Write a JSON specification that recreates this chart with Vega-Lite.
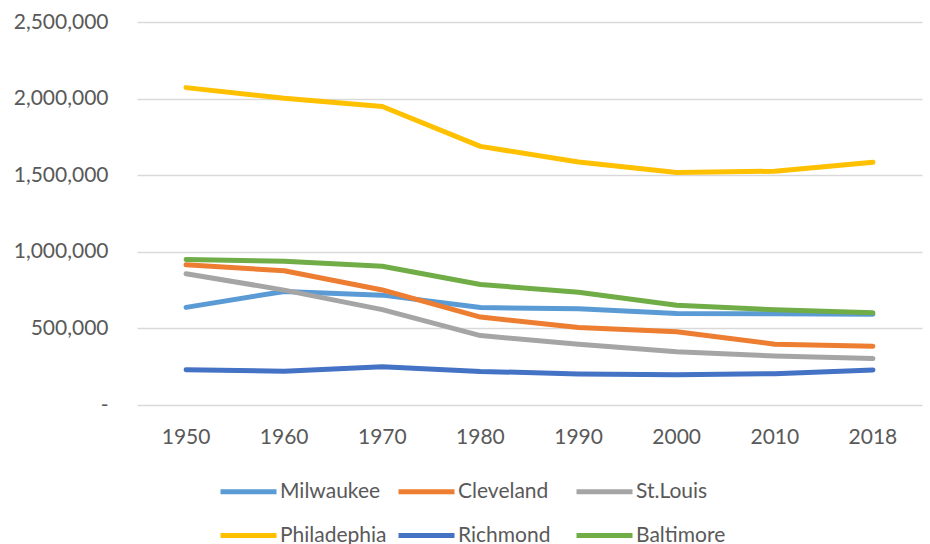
{
  "$schema": "https://vega.github.io/schema/vega-lite/v6.json",
  "width": 785,
  "height": 383,
  "autosize": {"type": "none"},
  "padding": {"left": 137, "top": 22, "right": 8, "bottom": 139},
  "background": "white",
  "config": {
    "view": {"stroke": null},
    "font": "Lato",
    "axis": {"labelFont": "Lato", "labelColor": "#595959", "labelFontSize": 21}
  },
  "data": {
    "values": [
      {"city": "Milwaukee", "year": "1950", "pop": 637392},
      {"city": "Milwaukee", "year": "1960", "pop": 741324},
      {"city": "Milwaukee", "year": "1970", "pop": 717099},
      {"city": "Milwaukee", "year": "1980", "pop": 636212},
      {"city": "Milwaukee", "year": "1990", "pop": 628088},
      {"city": "Milwaukee", "year": "2000", "pop": 596974},
      {"city": "Milwaukee", "year": "2010", "pop": 594833},
      {"city": "Milwaukee", "year": "2018", "pop": 592025},
      {"city": "Cleveland", "year": "1950", "pop": 914808},
      {"city": "Cleveland", "year": "1960", "pop": 876050},
      {"city": "Cleveland", "year": "1970", "pop": 750903},
      {"city": "Cleveland", "year": "1980", "pop": 573822},
      {"city": "Cleveland", "year": "1990", "pop": 505616},
      {"city": "Cleveland", "year": "2000", "pop": 478403},
      {"city": "Cleveland", "year": "2010", "pop": 396815},
      {"city": "Cleveland", "year": "2018", "pop": 383793},
      {"city": "St.Louis", "year": "1950", "pop": 856796},
      {"city": "St.Louis", "year": "1960", "pop": 750026},
      {"city": "St.Louis", "year": "1970", "pop": 622236},
      {"city": "St.Louis", "year": "1980", "pop": 453085},
      {"city": "St.Louis", "year": "1990", "pop": 396685},
      {"city": "St.Louis", "year": "2000", "pop": 348189},
      {"city": "St.Louis", "year": "2010", "pop": 319294},
      {"city": "St.Louis", "year": "2018", "pop": 302838},
      {"city": "Philadephia", "year": "1950", "pop": 2071605},
      {"city": "Philadephia", "year": "1960", "pop": 2002512},
      {"city": "Philadephia", "year": "1970", "pop": 1948609},
      {"city": "Philadephia", "year": "1980", "pop": 1688210},
      {"city": "Philadephia", "year": "1990", "pop": 1585577},
      {"city": "Philadephia", "year": "2000", "pop": 1517550},
      {"city": "Philadephia", "year": "2010", "pop": 1526006},
      {"city": "Philadephia", "year": "2018", "pop": 1584138},
      {"city": "Richmond", "year": "1950", "pop": 230310},
      {"city": "Richmond", "year": "1960", "pop": 219958},
      {"city": "Richmond", "year": "1970", "pop": 249621},
      {"city": "Richmond", "year": "1980", "pop": 219214},
      {"city": "Richmond", "year": "1990", "pop": 203056},
      {"city": "Richmond", "year": "2000", "pop": 197790},
      {"city": "Richmond", "year": "2010", "pop": 204214},
      {"city": "Richmond", "year": "2018", "pop": 228783},
      {"city": "Baltimore", "year": "1950", "pop": 949708},
      {"city": "Baltimore", "year": "1960", "pop": 939024},
      {"city": "Baltimore", "year": "1970", "pop": 905759},
      {"city": "Baltimore", "year": "1980", "pop": 786775},
      {"city": "Baltimore", "year": "1990", "pop": 736014},
      {"city": "Baltimore", "year": "2000", "pop": 651154},
      {"city": "Baltimore", "year": "2010", "pop": 620961},
      {"city": "Baltimore", "year": "2018", "pop": 602495}
    ]
  },
  "mark": {"type": "line", "strokeWidth": 5, "strokeCap": "round", "strokeJoin": "round"},
  "encoding": {
    "x": {
      "field": "year",
      "type": "ordinal",
      "sort": null,
      "scale": {"type": "band", "paddingInner": 0, "paddingOuter": 0},
      "axis": {
        "title": null,
        "labelAngle": 0,
        "ticks": false,
        "domain": false,
        "grid": false,
        "labelPadding": 21
      }
    },
    "y": {
      "field": "pop",
      "type": "quantitative",
      "scale": {"domain": [0, 2500000], "nice": false},
      "axis": {
        "title": null,
        "values": [0, 500000, 1000000, 1500000, 2000000, 2500000],
        "labelExpr": "datum.value == 0 ? '-' : format(datum.value, ',')",
        "ticks": false,
        "domain": false,
        "gridColor": "#D9D9D9",
        "gridWidth": 1.5,
        "labelPadding": 29
      }
    },
    "color": {
      "field": "city",
      "type": "nominal",
      "sort": ["Milwaukee", "Cleveland", "St.Louis", "Philadephia", "Richmond", "Baltimore"],
      "scale": {
        "domain": ["Milwaukee", "Cleveland", "St.Louis", "Philadephia", "Richmond", "Baltimore"],
        "range": ["#5B9BD5", "#ED7D31", "#A5A5A5", "#FFC000", "#4472C4", "#70AD47"]
      },
      "legend": {
        "title": null,
        "orient": "none",
        "legendX": 81,
        "legendY": 439,
        "direction": "horizontal",
        "columns": 3,
        "gridAlign": "all",
        "symbolType": "stroke",
        "symbolSize": 3136,
        "symbolStrokeWidth": 5,
        "labelFont": "Lato",
        "labelFontSize": 21,
        "labelColor": "#595959",
        "labelOffset": 1,
        "columnPadding": 1,
        "rowPadding": 3,
        "labelLimit": 300
      }
    }
  }
}
